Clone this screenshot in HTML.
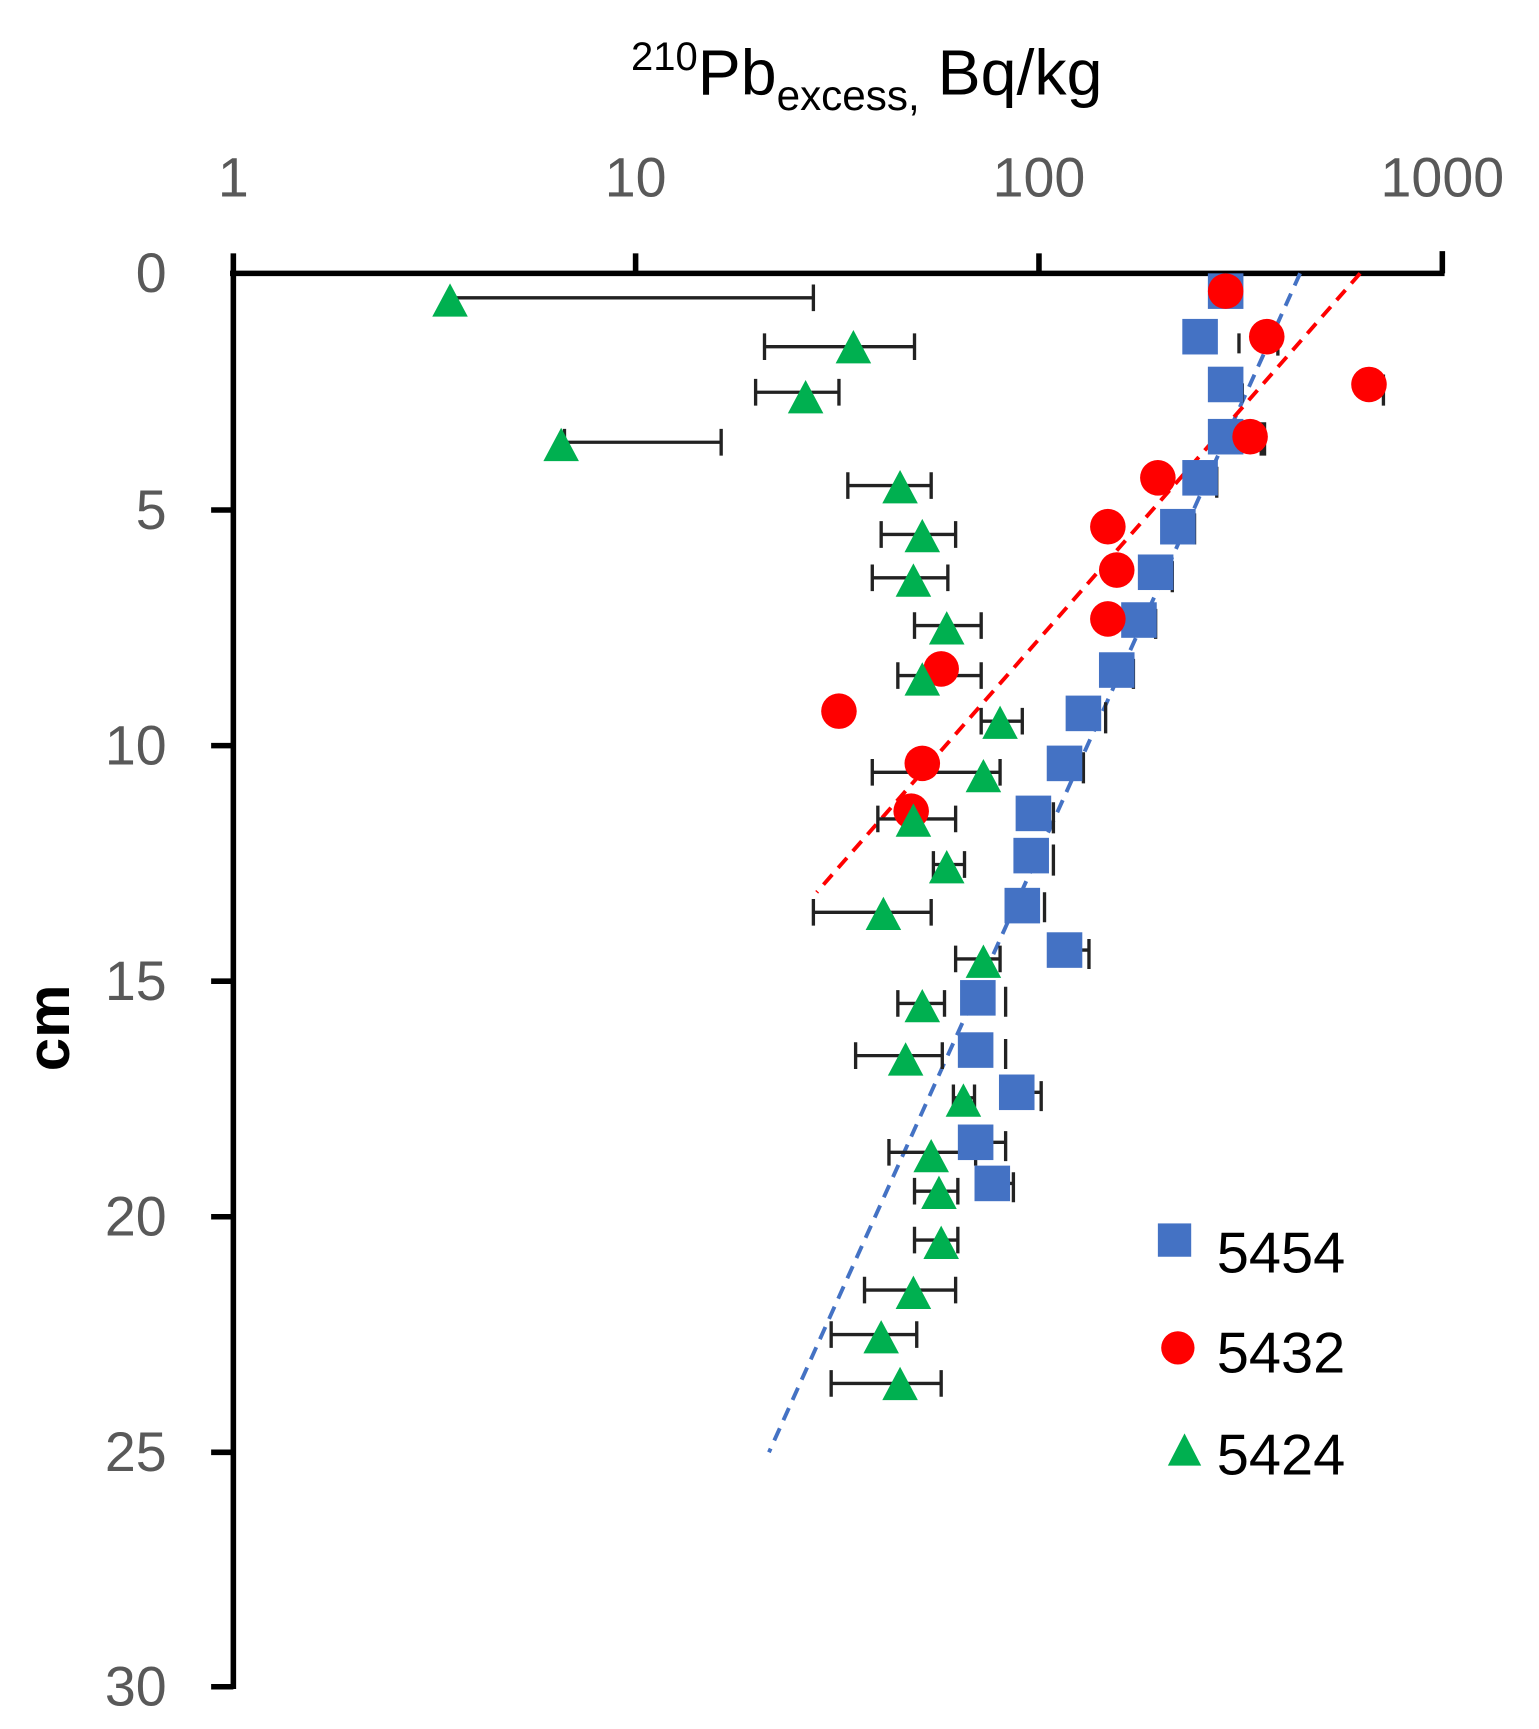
<!DOCTYPE html>
<html><head><style>
html,body{margin:0;padding:0;background:#fff;}
svg{display:block;}
</style></head><body>
<svg width="1539" height="1729" viewBox="0 0 1385 1556" preserveAspectRatio="none" xmlns="http://www.w3.org/2000/svg" font-family="Liberation Sans, DejaVu Sans, sans-serif">
<rect width="1385" height="1556" fill="#fff"/>
<!-- title -->
<text x="780" y="85" font-size="58" text-anchor="middle" fill="#000"><tspan font-size="36" dy="-22">210</tspan><tspan dy="22">Pb</tspan><tspan font-size="38" dy="14">excess,</tspan><tspan dy="-14"> Bq/kg</tspan></text>
<!-- x tick labels -->
<g font-size="50" fill="#595959" text-anchor="middle">
<text x="210" y="177">1</text><text x="572" y="177">10</text><text x="935" y="177">100</text><text x="1298" y="177">1000</text>
</g>
<!-- y tick labels -->
<g font-size="50" fill="#595959" text-anchor="end">
<text x="150" y="263">0</text><text x="150" y="476">5</text><text x="150" y="688">10</text><text x="150" y="900">15</text><text x="150" y="1112">20</text><text x="150" y="1324">25</text><text x="150" y="1535">30</text>
</g>
<text transform="translate(62,925) rotate(-90)" font-size="54" font-weight="bold" text-anchor="middle" fill="#000">cm</text>
<!-- axes -->
<g stroke="#000" stroke-width="5">
<line x1="207" y1="246" x2="1300" y2="246"/>
<line x1="210" y1="244" x2="210" y2="1520"/>
<line x1="210" y1="228" x2="210" y2="246"/><line x1="572" y1="228" x2="572" y2="246"/><line x1="935" y1="228" x2="935" y2="246"/><line x1="1298" y1="226" x2="1298" y2="246"/>
<line x1="190" y1="459" x2="210" y2="459"/><line x1="190" y1="671" x2="210" y2="671"/><line x1="190" y1="883" x2="210" y2="883"/><line x1="190" y1="1095" x2="210" y2="1095"/><line x1="190" y1="1307" x2="210" y2="1307"/><line x1="190" y1="1518" x2="210" y2="1518"/>
</g>
<!-- trend lines -->
<line x1="1170" y1="246" x2="692" y2="1307" stroke="#4472C4" stroke-width="3.5" stroke-dasharray="12,8"/>
<line x1="1224" y1="246" x2="735" y2="803" stroke="#FF0000" stroke-width="3.5" stroke-dasharray="12,8"/>
<!-- green error bars -->
<g stroke="#222" stroke-width="3" id="gerr"></g>
<g stroke="#222" stroke-width="3">
<path d="M405 268H732M732 256V280 M688 312H823M688 300V324M823 300V324 M680 353H755M680 341V365M755 341V365 M508 398H649M508 386V410M649 386V410 M763 437H838M763 425V449M838 425V449 M793 481H860M793 469V493M860 469V493 M785 520H853M785 508V532M853 508V532 M823 563H883M823 551V575M883 551V575 M808 608H883M808 596V620M883 596V620 M883 649H920M883 637V661M920 637V661 M785 695H900M785 683V707M900 683V707 M790 737H860M790 725V749M860 725V749 M840 778H868M840 766V790M868 766V790 M732 821H838M732 809V833M838 809V833 M860 863H900M860 851V875M900 851V875 M808 903H850M808 891V915M850 891V915 M770 950H848M770 938V962M848 938V962 M858 988H877M858 976V1000M877 976V1000 M800 1037H878M800 1025V1049M878 1025V1049 M823 1072H862M823 1060V1084M862 1060V1084 M823 1116H862M823 1104V1128M862 1104V1128 M778 1161H860M778 1149V1173M860 1149V1173 M748 1201H825M748 1189V1213M825 1189V1213 M748 1245H847M748 1233V1257M847 1233V1257"/>
<!-- blue err -->
<path d="M1115 300V318M1118 345V362M1135 380V410M1095 420V448M1075 462V490M1055 505V533M1040 548V575M1020 593V620M995 632V660M975 677V705M948 722V750M948 760V788M940 803V830M980 845V872M905 888V915M905 935V962M937 973V1000M905 1018V1045M912 1055V1082 M1150 292V320M1245 337V365M1138 380V410"/>
<path d="M958 855H980M893 1065H912M878 1028H905M915 983H937"/>
</g>
<!-- blue squares -->
<g fill="#4472C4">
<rect x="1087" y="246" width="32" height="32"/><rect x="1064" y="287" width="32" height="32"/><rect x="1087" y="330" width="32" height="32"/><rect x="1087" y="377" width="32" height="32"/><rect x="1064" y="414" width="32" height="32"/><rect x="1044" y="458" width="32" height="32"/><rect x="1024" y="499" width="32" height="32"/><rect x="1009" y="542" width="32" height="32"/><rect x="989" y="587" width="32" height="32"/><rect x="959" y="626" width="32" height="32"/><rect x="942" y="671" width="32" height="32"/><rect x="914" y="716" width="32" height="32"/><rect x="912" y="754" width="32" height="32"/><rect x="904" y="799" width="32" height="32"/><rect x="942" y="839" width="32" height="32"/><rect x="864" y="882" width="32" height="32"/><rect x="862" y="929" width="32" height="32"/><rect x="899" y="967" width="32" height="32"/><rect x="862" y="1012" width="32" height="32"/><rect x="877" y="1049" width="32" height="32"/>
</g>
<!-- red circles -->
<g fill="#FF0000">
<circle cx="1103" cy="262" r="16"/><circle cx="1140" cy="303" r="16"/><circle cx="1232" cy="346" r="16"/><circle cx="1125" cy="393" r="16"/><circle cx="1042" cy="430" r="16"/><circle cx="997" cy="474" r="16"/><circle cx="1005" cy="513" r="16"/><circle cx="997" cy="557" r="16"/><circle cx="847" cy="602" r="16"/><circle cx="755" cy="640" r="16"/><circle cx="830" cy="687" r="16"/><circle cx="820" cy="730" r="16"/>
</g>
<!-- green triangles -->
<g fill="#00B050">
<path d="M405 255l-16 30h32z M768 297l-16 30h32z M725 342l-16 30h32z M505 385l-16 30h32z M810 423l-16 30h32z M830 467l-16 30h32z M822 507l-16 30h32z M852 550l-16 30h32z M830 596l-16 30h32z M900 635l-16 30h32z M885 683l-16 30h32z M822 723l-16 30h32z M852 765l-16 30h32z M795 807l-16 30h32z M885 850l-16 30h32z M830 890l-16 30h32z M815 938l-16 30h32z M867 975l-16 30h32z M838 1025l-16 30h32z M845 1058l-16 30h32z M847 1103l-16 30h32z M822 1148l-16 30h32z M793 1188l-16 30h32z M810 1230l-16 30h32z"/>
</g>
<!-- legend -->
<rect x="1042" y="1101" width="30" height="30" fill="#4472C4"/>
<circle cx="1060" cy="1213" r="15" fill="#FF0000"/>
<path d="M1066 1290l-15 29h30z" fill="#00B050"/>
<g font-size="52" fill="#000">
<text x="1095" y="1145">5454</text><text x="1095" y="1235">5432</text><text x="1095" y="1327">5424</text>
</g>
</svg>
</body></html>
